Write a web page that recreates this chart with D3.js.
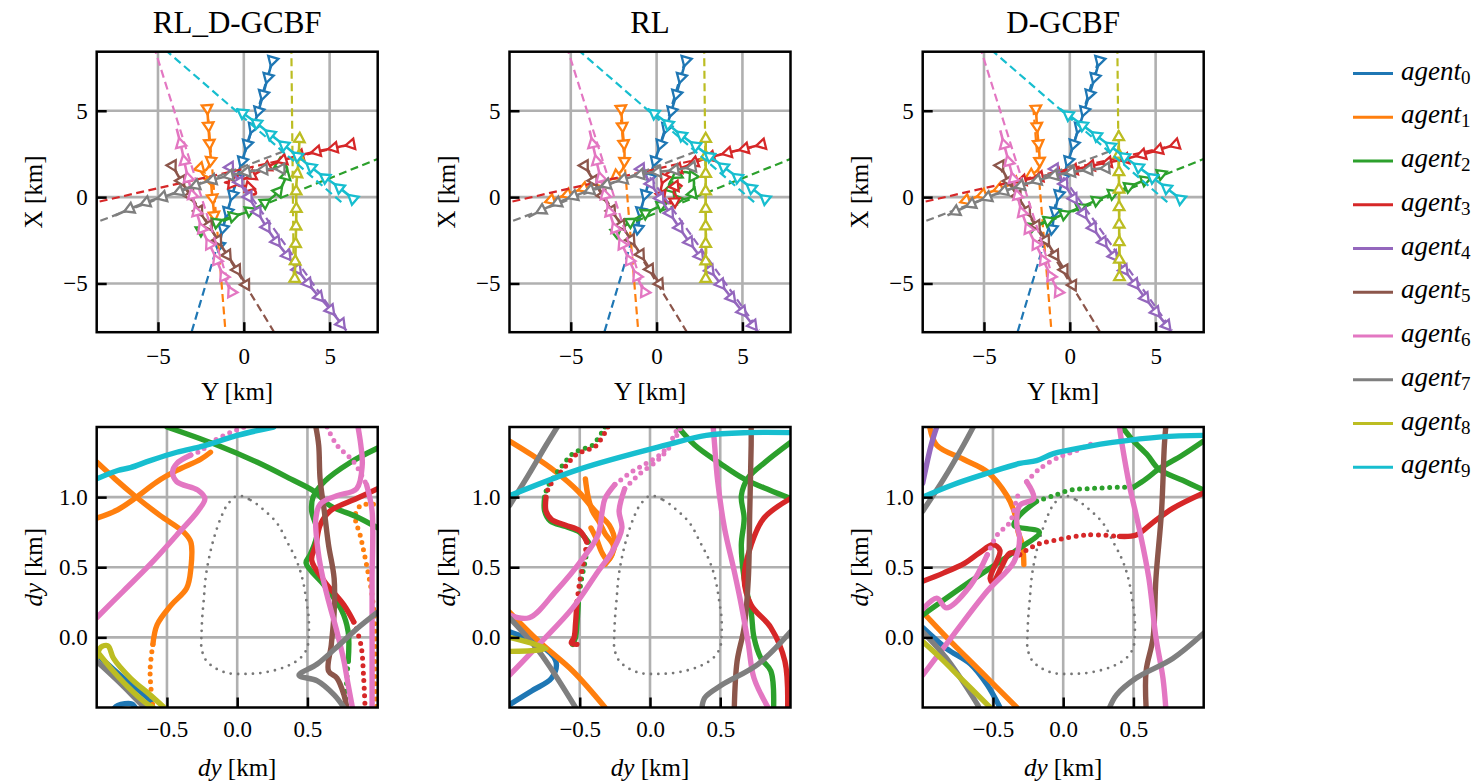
<!DOCTYPE html>
<html>
<head>
<meta charset="utf-8">
<script src="https://cdn.jsdelivr.net/npm/d3@7"></script>
<style>
  body { margin: 0; background: #fff; }
  svg text { font-family: "Liberation Serif", "Times New Roman", serif; fill: #000; }
</style>
</head>
<body>
<svg id="fig" width="1478" height="784"></svg>
<script>
// ---------------- data ----------------
const methods = ["RL_D-GCBF", "RL", "D-GCBF"];
const agentIndex = ["0", "1", "2", "3", "4", "5", "6", "7", "8", "9"];

const mapXTicks = [-5, 0, 5];
const mapYTicks = [-5, 0, 5];
const relXTicks = [-0.5, 0, 0.5];
const relYTicks = [0, 0.5, 1.0];

// planned straight route of each agent [Y, X] in km (start -> far end)
const routeStart = [[1.67, 7.92], [-2.13, 5.21], [-2.56, -1.93], [6.26, 3.05], [-0.81, 1.74],
                    [-4.15, 1.83], [-0.72, -5.5], [2.29, 2.64], [2.91, -4.73], [5.68, -0.29]];
const routeEnd = [[-3.1, -8.0], [-1.05, -8.0], [7.95, 2.27], [-8.7, -0.32], [5.97, -7.72],
                  [1.88, -8.0], [-5.2, 8.6], [-8.7, -1.5], [2.77, 8.6], [-4.6, 8.55]];

// flown trajectories [Y, X] in km
const trajRLDGCBF = [
  [[1.67, 7.92], [1.32, 6.66], [1.03, 5.6], [0.74, 4.63], [0.35, 3.57], [0, 2.41], [-0.33, 1.35], [-0.62, 0.29], [-0.91, -0.68], [-1.2, -1.74], [-1.43, -2.8]],
  [[-2.13, 5.15], [-2.05, 3.96], [-1.98, 2.8], [-1.94, 2.03], [-2.27, 1.54], [-2.56, 1.68], [-2.36, 1.29], [-1.98, 1.06], [-1.86, 0.29], [-1.78, -0.48], [-1.69, -1.35]],
  [[-2.5, -1.93], [-1.8, -1.55], [-0.9, -1.2], [0.16, -0.87], [1.12, -0.4], [1.8, 0.1], [2.2, 0.6], [2.45, 1.2], [2.5, 1.75], [2.2, 1.95], [2.0, 1.85]],
  [[6.26, 3.05], [4.5, 2.7], [3.0, 2.35], [1.9, 2.0], [1.1, 1.6], [0.4, 1.2], [-0.4, 0.95], [-1.1, 0.85], [-0.5, 0.75], [0.2, 0.6], [0.6, 0.45], [0.7, 0.2], [0.5, 0.15]],
  [[-0.81, 1.74], [0.35, -0.1], [1.51, -2.03], [2.67, -3.57], [3.84, -5.12], [5.0, -6.47], [5.97, -7.72]],
  [[-4.15, 1.83], [-3.72, 1.06], [-3.14, 0.1], [-2.56, -0.87], [-1.98, -1.74], [-1.2, -2.99], [-0.43, -4.15], [0.16, -5.12]],
  [[-0.72, -5.5], [-1.2, -4.54], [-1.78, -3.19], [-2.36, -2.03], [-2.75, -0.87], [-3.04, 0.29], [-3.33, 1.45], [-3.62, 2.8], [-3.91, 3.96]],
  [[2.19, 1.64], [1.12, 1.6], [0.16, 1.45], [-0.81, 1.25], [-1.59, 1.06], [-2.56, 0.77], [-3.33, 0.48], [-4.11, 0.19], [-5.08, -0.1], [-6.05, -0.44], [-7.5, -1.06]],
  [[2.97, -4.73], [3.02, -2.8], [3.06, -0.87], [3.06, 0.68], [3.16, 1.83], [3.26, 3.67]],
  [[6.36, -0.1], [5.39, 0.68], [4.42, 1.35], [3.45, 2.12], [2.48, 2.9], [1.51, 3.67], [0.54, 4.44], [-0.43, 5.12]]
];
const trajRL = [
  [[1.7, 7.92], [1.35, 6.66], [1.05, 5.6], [0.75, 4.6], [0.38, 3.5], [0.0, 2.4], [-0.33, 1.35], [-0.62, 0.29], [-0.9, -0.7], [-1.1, -1.93]],
  [[-2.07, 5.12], [-1.97, 3.76], [-1.87, 2.41], [-1.97, 1.64], [-2.64, 1.06], [-3.8, 0.68], [-5.35, 0.1], [-6.5, -0.29]],
  [[-2.36, -2.03], [-1.68, -1.53], [-0.33, -0.77], [1.0, -0.19], [1.97, 0.0], [2.17, 0.58], [2.07, 1.26], [1.6, 1.45], [1.02, 1.16], [0.73, 0.68], [1.02, 0.39], [1.4, 0.58]],
  [[6.14, 3.05], [4.69, 2.7], [3.15, 2.32], [2.2, 2.0], [1.6, 1.74], [0.6, 1.37], [0.33, 0.79], [0.25, 0.3], [0.5, -0.2], [0.8, -0.35], [1.2, -0.1], [1.0, 0.3], [1.2, 0.79], [1.5, 0.6]],
  [[-0.91, 1.64], [0.3, -0.2], [1.5, -2.03], [2.65, -3.6], [3.8, -5.12], [4.9, -6.5], [5.85, -7.72]],
  [[-4.19, 1.83], [-3.7, 1.0], [-3.1, 0.0], [-2.5, -0.95], [-1.9, -1.85], [-1.1, -3.05], [-0.4, -4.15], [0.25, -5.12]],
  [[-0.71, -5.5], [-1.2, -4.5], [-1.8, -3.2], [-2.35, -2.0], [-2.75, -0.85], [-3.05, 0.3], [-3.35, 1.45], [-3.65, 2.75], [-3.9, 3.86]],
  [[2.08, 1.74], [0.83, 1.54], [-0.71, 1.35], [-2.45, 0.87], [-4.19, 0.29], [-5.93, -0.39], [-7.47, -1.16]],
  [[2.86, -4.73], [2.86, -2.5], [2.86, 0.0], [2.86, 2.0], [2.86, 3.67]],
  [[6.33, -0.1], [5.3, 0.7], [4.3, 1.45], [3.3, 2.2], [2.3, 2.95], [1.3, 3.7], [0.4, 4.45], [-0.52, 5.12]]
];
const trajDGCBF = [
  [[1.73, 7.92], [1.35, 6.6], [1.0, 5.5], [0.65, 4.4], [0.3, 3.3], [-0.05, 2.2], [-0.4, 1.1], [-0.7, -0.1], [-0.9, -1.0], [-1.06, -2.03]],
  [[-1.97, 5.12], [-1.89, 3.76], [-1.77, 2.41], [-1.83, 1.64], [-2.5, 1.16], [-3.85, 0.58], [-5.2, 0.1], [-6.36, -0.29]],
  [[-2.22, -1.74], [0.0, -0.85], [2.0, 0.0], [3.8, 0.75], [5.59, 1.45]],
  [[6.17, 3.05], [4.7, 2.6], [3.28, 2.22], [1.35, 1.83], [-0.39, 1.45], [-2.31, 1.06], [-3.6, 0.75]],
  [[-0.87, 1.64], [0.3, -0.2], [1.5, -2.0], [2.7, -3.6], [3.85, -5.12], [4.9, -6.5], [5.88, -7.72]],
  [[-4.05, 1.83], [-3.6, 1.0], [-3.0, 0.0], [-2.4, -0.95], [-1.8, -1.85], [-1.05, -3.05], [-0.35, -4.15], [0.19, -5.12]],
  [[-0.67, -5.5], [-1.15, -4.5], [-1.75, -3.2], [-2.35, -2.0], [-2.8, -0.85], [-3.1, 0.3], [-3.4, 1.45], [-3.75, 2.75], [-4.05, 3.86]],
  [[2.12, 1.68], [0.8, 1.55], [-0.7, 1.3], [-2.4, 0.8], [-4.1, 0.25], [-5.7, -0.4], [-7.13, -1.06]],
  [[2.89, -4.63], [2.88, -2.4], [2.87, 0.0], [2.86, 2.0], [2.85, 3.86]],
  [[6.45, -0.1], [5.4, 0.7], [4.4, 1.45], [3.3, 2.25], [2.3, 3.0], [1.3, 3.75], [0.35, 4.45], [-0.58, 5.12]]
];

// protected-zone boundary in the relative frame [dy, dy] km
const zoneBoundary = [[0, 1.009], [0.095, 0.979], [0.19, 0.908], [0.284, 0.813], [0.355, 0.682], [0.415, 0.564],
  [0.45, 0.469], [0.474, 0.374], [0.493, 0.256], [0.509, 0.137], [0.509, 0.019], [0.498, -0.076], [0.45, -0.147],
  [0.379, -0.194], [0.284, -0.23], [0.166, -0.254], [0.047, -0.261], [-0.071, -0.254], [-0.166, -0.213],
  [-0.225, -0.159], [-0.254, -0.076], [-0.254, 0.019], [-0.249, 0.137], [-0.237, 0.28], [-0.225, 0.422],
  [-0.201, 0.564], [-0.166, 0.706], [-0.118, 0.848], [-0.071, 0.943], [0, 1.009]];

// relative tracks: agent, sampled points, and whether the samples are sparse
const relRLDGCBF = [
  { agent: 0, sparse: false, pts: [[-1.0, -0.12], [-0.81, -0.29], [-0.62, -0.45], [-0.6, -0.5]] },
  { agent: 0, sparse: false, pts: [[-0.88, -0.51], [-0.85, -0.485], [-0.75, -0.475], [-0.72, -0.51]] },
  { agent: 1, sparse: false, pts: [[-1.0, 1.25], [-0.87, 1.13], [-0.73, 1.01], [-0.55, 0.87], [-0.38, 0.75], [-0.33, 0.68], [-0.33, 0.49], [-0.36, 0.35], [-0.47, 0.23], [-0.57, 0.09], [-0.6, -0.05]] },
  { agent: 1, sparse: true, pts: [[-0.6, -0.05], [-0.62, -0.24], [-0.6, -0.5]] },
  { agent: 1, sparse: false, pts: [[-1.0, 0.85], [-0.85, 0.91], [-0.73, 0.99], [-0.57, 1.11], [-0.43, 1.19], [-0.26, 1.27], [-0.19, 1.32]] },
  { agent: 1, sparse: true, pts: [[0.97, 0.95], [0.88, 0.94], [0.84, 0.87], [0.88, 0.71], [0.92, 0.52], [0.96, 0.3], [0.98, 0.07], [0.98, -0.29], [0.99, -0.5]] },
  { agent: 2, sparse: false, pts: [[-0.5, 1.5], [-0.14, 1.37], [0.14, 1.25], [0.38, 1.13], [0.55, 1.04], [0.66, 0.94], [0.85, 0.86], [1.0, 0.78]] },
  { agent: 2, sparse: false, pts: [[1.0, 1.35], [0.81, 1.25], [0.62, 1.11], [0.54, 1.0], [0.53, 0.9], [0.57, 0.75], [0.52, 0.59], [0.49, 0.53], [0.62, 0.37], [0.74, 0.2], [0.79, 0.04], [0.79, -0.17]] },
  { agent: 2, sparse: true, pts: [[0.79, -0.17], [0.78, -0.3], [0.77, -0.5]] },
  { agent: 3, sparse: false, pts: [[1.0, 1.06], [0.85, 0.99], [0.66, 0.9], [0.59, 0.8], [0.56, 0.66], [0.53, 0.55], [0.62, 0.4], [0.76, 0.23], [0.83, 0.11]] },
  { agent: 3, sparse: true, pts: [[0.83, 0.11], [0.88, -0.05], [0.9, -0.29], [0.91, -0.5]] },
  { agent: 5, sparse: false, pts: [[0.56, 1.5], [0.58, 1.37], [0.59, 1.13], [0.62, 0.9], [0.65, 0.66], [0.69, 0.42], [0.69, 0.18], [0.67, -0.05], [0.65, -0.24], [0.71, -0.29], [0.76, -0.41], [0.78, -0.5]] },
  { agent: 6, sparse: false, pts: [[-1.0, 0.14], [-0.81, 0.33], [-0.62, 0.52], [-0.43, 0.73], [-0.28, 0.9], [-0.23, 0.99], [-0.28, 1.05], [-0.43, 1.11], [-0.46, 1.18], [-0.43, 1.24], [-0.33, 1.3]] },
  { agent: 6, sparse: true, pts: [[-0.33, 1.3], [-0.26, 1.33], [-0.17, 1.4], [-0.05, 1.46], [0.05, 1.5]] },
  { agent: 6, sparse: false, pts: [[0.86, 1.5], [0.88, 1.37], [0.89, 1.23], [0.85, 1.06], [0.71, 1.01], [0.59, 0.95], [0.56, 0.85], [0.57, 0.66], [0.6, 0.47], [0.65, 0.26], [0.71, 0.04], [0.76, -0.17], [0.79, -0.34], [0.82, -0.5]] },
  { agent: 6, sparse: true, pts: [[0.64, 1.5], [0.71, 1.37], [0.83, 1.25], [0.92, 1.09]] },
  { agent: 6, sparse: false, pts: [[0.92, 1.09], [0.96, 0.9], [0.96, 0.42], [0.96, -0.05], [0.96, -0.5]] },
  { agent: 7, sparse: false, pts: [[-1.0, -0.17], [-0.85, -0.31], [-0.71, -0.45], [-0.66, -0.5]] },
  { agent: 7, sparse: false, pts: [[1.0, 0.18], [0.85, 0.06], [0.73, -0.05], [0.57, -0.19], [0.44, -0.27], [0.57, -0.31], [0.69, -0.41], [0.76, -0.5]] },
  { agent: 8, sparse: false, pts: [[-1.0, -0.14], [-0.97, -0.07], [-0.92, -0.06], [-0.88, -0.15], [-0.76, -0.29], [-0.62, -0.41], [-0.52, -0.5]] },
  { agent: 8, sparse: false, pts: [[-0.99, -0.11], [-0.9, -0.22], [-0.78, -0.35], [-0.66, -0.46], [-0.6, -0.5]] },
  { agent: 9, sparse: false, pts: [[-1.0, 1.13], [-0.85, 1.19], [-0.76, 1.21], [-0.62, 1.26], [-0.43, 1.32], [-0.26, 1.36], [-0.19, 1.38], [0.0, 1.44], [0.26, 1.5]] }
];
const relRL = [
  { agent: 0, sparse: false, pts: [[-1.0, 0.04], [-0.79, -0.05], [-0.67, -0.17], [-0.7, -0.29], [-0.84, -0.38], [-1.0, -0.48]] },
  { agent: 1, sparse: false, pts: [[-1.0, 1.4], [-0.84, 1.3], [-0.67, 1.18], [-0.51, 1.04], [-0.39, 0.9], [-0.29, 0.8], [-0.25, 0.68], [-0.27, 0.59], [-0.32, 0.52]] },
  { agent: 1, sparse: false, pts: [[-0.46, 1.13], [-0.44, 1.0], [-0.41, 0.9], [-0.36, 0.82], [-0.32, 0.74], [-0.26, 0.65], [-0.3, 0.55], [-0.34, 0.6], [-0.38, 0.7], [-0.42, 0.78]] },
  { agent: 1, sparse: false, pts: [[-1.0, 0.18], [-0.79, -0.03], [-0.55, -0.24], [-0.32, -0.5]] },
  { agent: 2, sparse: true, pts: [[-0.32, 1.5], [-0.41, 1.37], [-0.49, 1.34], [-0.55, 1.31], [-0.62, 1.23], [-0.68, 1.15], [-0.73, 1.07], [-0.75, 1.0]] },
  { agent: 2, sparse: false, pts: [[-0.75, 1.0], [-0.75, 0.9], [-0.71, 0.83], [-0.6, 0.79], [-0.5, 0.75], [-0.44, 0.68]] },
  { agent: 2, sparse: true, pts: [[-0.44, 0.68], [-0.46, 0.55], [-0.49, 0.4], [-0.51, 0.25]] },
  { agent: 2, sparse: false, pts: [[-0.51, 0.25], [-0.52, 0.1], [-0.53, 0.0], [-0.55, -0.05]] },
  { agent: 2, sparse: false, pts: [[0.2, 1.5], [0.32, 1.37], [0.5, 1.24], [0.67, 1.13], [0.85, 1.05], [1.0, 0.99]] },
  { agent: 2, sparse: false, pts: [[1.0, 1.39], [0.82, 1.25], [0.7, 1.14], [0.65, 1.01], [0.67, 0.85], [0.65, 0.66], [0.67, 0.42], [0.72, 0.18], [0.74, 0.0], [0.79, -0.15], [0.86, -0.24], [0.88, -0.5]] },
  { agent: 3, sparse: true, pts: [[-0.3, 1.5], [-0.39, 1.36], [-0.47, 1.33], [-0.53, 1.3], [-0.6, 1.22], [-0.66, 1.15], [-0.72, 1.07], [-0.74, 1.0]] },
  { agent: 3, sparse: false, pts: [[-0.74, 1.0], [-0.74, 0.9], [-0.7, 0.84], [-0.6, 0.8], [-0.5, 0.76], [-0.45, 0.68]] },
  { agent: 3, sparse: true, pts: [[-0.45, 0.68], [-0.47, 0.55], [-0.5, 0.4], [-0.52, 0.25]] },
  { agent: 3, sparse: false, pts: [[-0.52, 0.25], [-0.53, 0.1], [-0.54, 0.0], [-0.56, -0.04], [-0.52, -0.05]] },
  { agent: 3, sparse: false, pts: [[1.0, 0.99], [0.81, 0.85], [0.72, 0.66], [0.67, 0.42], [0.72, 0.23], [0.86, 0.07], [0.96, -0.17], [0.98, -0.5]] },
  { agent: 5, sparse: false, pts: [[0.72, 1.5], [0.72, 1.37], [0.71, 0.9], [0.7, 0.42], [0.67, 0.07], [0.62, -0.17], [0.6, -0.5]] },
  { agent: 6, sparse: false, pts: [[-1.0, -0.27], [-0.79, -0.05], [-0.55, 0.21], [-0.37, 0.47], [-0.27, 0.61], [-0.2, 0.78], [-0.22, 0.9], [-0.18, 1.06]] },
  { agent: 6, sparse: true, pts: [[-0.18, 1.06], [-0.08, 1.16], [0.04, 1.25], [0.11, 1.32], [0.17, 1.4], [0.22, 1.5]] },
  { agent: 6, sparse: false, pts: [[-1.0, 0.16], [-0.86, 0.14], [-0.67, 0.33], [-0.48, 0.56], [-0.37, 0.73], [-0.34, 0.9], [-0.32, 0.99], [-0.25, 1.09]] },
  { agent: 6, sparse: true, pts: [[-0.25, 1.09], [-0.13, 1.18], [-0.01, 1.25], [0.08, 1.31], [0.15, 1.4], [0.2, 1.5]] },
  { agent: 6, sparse: false, pts: [[0.45, 1.5], [0.46, 1.37], [0.48, 1.13], [0.53, 0.78], [0.6, 0.47], [0.65, 0.23], [0.7, -0.05], [0.74, -0.29], [0.84, -0.5]] },
  { agent: 7, sparse: false, pts: [[-1.0, 0.94], [-0.87, 1.15], [-0.74, 1.37], [-0.66, 1.5]] },
  { agent: 7, sparse: false, pts: [[-1.0, 0.14], [-0.79, -0.1], [-0.53, -0.5]] },
  { agent: 7, sparse: false, pts: [[1.0, 0.04], [0.77, -0.19], [0.51, -0.34], [0.39, -0.43], [0.37, -0.5]] },
  { agent: 8, sparse: false, pts: [[-1.0, 0.0], [-0.74, -0.08], [-1.0, -0.1]] },
  { agent: 9, sparse: false, pts: [[-1.0, 1.01], [-0.5, 1.2], [0.11, 1.37], [0.4, 1.44], [0.7, 1.46], [1.0, 1.46]] }
];
const relDGCBF = [
  { agent: 0, sparse: false, pts: [[-1.0, 0.07], [-0.83, -0.08], [-0.66, -0.19], [-0.54, -0.34], [-0.45, -0.5]] },
  { agent: 1, sparse: false, pts: [[-0.95, 1.5], [-0.9, 1.37], [-0.71, 1.27], [-0.54, 1.18], [-0.4, 1.01], [-0.35, 0.9], [-0.32, 0.75], [-0.29, 0.66], [-0.28, 0.52]] },
  { agent: 1, sparse: false, pts: [[-1.0, 0.18], [-0.83, 0.0], [-0.59, -0.24], [-0.33, -0.5]] },
  { agent: 2, sparse: false, pts: [[-1.0, 0.16], [-0.66, 0.4], [-0.35, 0.61], [-0.17, 0.75], [-0.35, 0.8], [-0.31, 0.87], [-0.19, 0.97]] },
  { agent: 2, sparse: true, pts: [[-0.19, 0.97], [-0.07, 1.01], [0.05, 1.05], [0.17, 1.06], [0.4, 1.07], [0.5, 1.07]] },
  { agent: 2, sparse: false, pts: [[0.5, 1.07], [0.59, 1.13], [0.68, 1.2], [0.85, 1.3], [1.0, 1.4]] },
  { agent: 2, sparse: false, pts: [[0.42, 1.5], [0.5, 1.4], [0.6, 1.3], [0.68, 1.2], [0.85, 1.12], [1.0, 1.05]] },
  { agent: 3, sparse: false, pts: [[-1.0, 0.4], [-0.85, 0.46], [-0.7, 0.53], [-0.6, 0.6], [-0.5, 0.66], [-0.45, 0.62], [-0.52, 0.42], [-0.5, 0.39], [-0.44, 0.5], [-0.38, 0.6], [-0.31, 0.59]] },
  { agent: 3, sparse: true, pts: [[-0.31, 0.59], [-0.19, 0.66], [-0.07, 0.69], [0.17, 0.73], [0.4, 0.72]] },
  { agent: 3, sparse: false, pts: [[0.4, 0.72], [0.52, 0.73], [0.64, 0.82], [0.78, 0.92], [1.0, 1.03]] },
  { agent: 4, sparse: false, pts: [[-0.9, 1.5], [-0.94, 1.37], [-1.0, 1.1]] },
  { agent: 5, sparse: false, pts: [[0.73, 1.5], [0.72, 1.37], [0.7, 0.9], [0.66, 0.42], [0.64, 0.0], [0.59, -0.24], [0.59, -0.5]] },
  { agent: 6, sparse: false, pts: [[-1.0, -0.27], [-0.78, 0.02], [-0.54, 0.33], [-0.35, 0.54], [-0.31, 0.71], [-0.33, 0.8], [-0.31, 0.94], [-0.21, 0.99], [-0.26, 1.11]] },
  { agent: 6, sparse: true, pts: [[-0.26, 1.11], [-0.17, 1.2], [-0.02, 1.29], [0.09, 1.33], [0.2, 1.38]] },
  { agent: 6, sparse: false, pts: [[-1.0, 0.2], [-0.9, 0.28], [-0.83, 0.21], [-0.66, 0.37], [-0.54, 0.59]] },
  { agent: 6, sparse: true, pts: [[-0.54, 0.59], [-0.47, 0.73], [-0.38, 0.82], [-0.34, 0.95], [-0.31, 1.06]] },
  { agent: 6, sparse: false, pts: [[0.4, 1.5], [0.42, 1.37], [0.47, 1.09], [0.54, 0.78], [0.61, 0.42], [0.66, 0.0], [0.71, -0.29], [0.73, -0.5]] },
  { agent: 7, sparse: false, pts: [[-1.0, 0.9], [-0.85, 1.13], [-0.71, 1.37], [-0.64, 1.5]] },
  { agent: 7, sparse: false, pts: [[-1.0, 0.04], [-0.83, -0.15], [-0.61, -0.48], [-0.6, -0.5]] },
  { agent: 7, sparse: false, pts: [[1.0, 0.03], [0.78, -0.15], [0.52, -0.29], [0.38, -0.41], [0.33, -0.5]] },
  { agent: 8, sparse: false, pts: [[-1.0, -0.03], [-0.87, -0.15], [-0.73, -0.29], [-0.54, -0.48], [-0.52, -0.5]] },
  { agent: 9, sparse: false, pts: [[-1.0, 1.0], [-0.78, 1.09], [-0.54, 1.17], [-0.31, 1.24], [-0.19, 1.26], [-0.07, 1.31], [0.17, 1.36], [0.35, 1.39], [0.7, 1.43], [1.0, 1.44]] }
];

const trajectories = [trajRLDGCBF, trajRL, trajDGCBF];
const relativeTracks = [relRLDGCBF, relRL, relDGCBF];

// ---------------- layout ----------------
const colors = d3.schemeCategory10;
const panelLeft = [96.7, 509.5, 922.7];
const panelW = 281, panelH = 280.5;
const mapTop = 51.7, relTop = 427;
const mapXDomain = [-8.57, 7.8], mapYDomain = [-7.82, 8.42];
const relXDomain = [-1, 1], relYDomain = [-0.5, 1.5];

const svg = d3.select("#fig");
const defs = svg.append("defs");
const serif = "Liberation Serif, Times New Roman, serif";

function makePanel(i, top, xDom, yDom, key) {
  const left = panelLeft[i];
  const xs = d3.scaleLinear().domain(xDom).range([left, left + panelW]);
  const ys = d3.scaleLinear().domain(yDom).range([top + panelH, top]);
  const id = "clip-" + key + "-" + i;
  defs.append("clipPath").attr("id", id).append("rect")
    .attr("x", left).attr("y", top).attr("width", panelW).attr("height", panelH);
  return { xs, ys, id, left, top };
}

function drawGrid(p, xt, yt) {
  const g = svg.append("g").attr("stroke", "#b0b0b0").attr("stroke-width", 2.6);
  g.selectAll("line.v").data(xt).join("line").attr("class", "v")
    .attr("x1", d => p.xs(d)).attr("x2", d => p.xs(d))
    .attr("y1", p.top).attr("y2", p.top + panelH);
  g.selectAll("line.h").data(yt).join("line").attr("class", "h")
    .attr("y1", d => p.ys(d)).attr("y2", d => p.ys(d))
    .attr("x1", p.left).attr("x2", p.left + panelW);
}

function drawFrameAxes(p, xt, yt, fmt, xPad, xLabel, yLabel) {
  svg.append("rect").attr("x", p.left).attr("y", p.top).attr("width", panelW).attr("height", panelH)
    .attr("fill", "none").attr("stroke", "#000").attr("stroke-width", 2.5);
  const ax = svg.append("g").attr("transform", `translate(0,${p.top + panelH})`)
    .call(d3.axisBottom(p.xs).tickValues(xt).tickSize(-10).tickPadding(xPad).tickFormat(fmt));
  const ay = svg.append("g").attr("transform", `translate(${p.left},0)`)
    .call(d3.axisLeft(p.ys).tickValues(yt).tickSize(-10).tickPadding(9).tickFormat(fmt));
  [ax, ay].forEach(a => {
    a.attr("font-family", serif).attr("font-size", 23);
    a.select(".domain").remove();
    a.selectAll(".tick line").attr("stroke", "#000").attr("stroke-width", 2.5);
    a.selectAll(".tick text").attr("fill", "#000");
  });
  // axis titles
  const xt2 = svg.append("text").attr("x", p.left + panelW / 2).attr("y", p.top + panelH + 68)
    .attr("text-anchor", "middle").attr("font-size", 25);
  xLabel(xt2);
  const yt2 = svg.append("text")
    .attr("transform", `translate(${p.left - 55},${p.top + panelH / 2}) rotate(-90)`)
    .attr("text-anchor", "middle").attr("font-size", 25);
  yLabel(yt2);
}

const plain = s => t => t.text(s);
const mathDy = t => { t.append("tspan").attr("font-style", "italic").text("dy"); t.append("tspan").text(" [km]"); };

// ---------------- top row: trajectories ----------------
const tri = d3.symbol().type(d3.symbolTriangle).size(48);
methods.forEach((m, i) => {
  const p = makePanel(i, mapTop, mapXDomain, mapYDomain, "map");
  drawGrid(p, mapXTicks, mapYTicks);
  const line = d3.line().x(d => p.xs(d[0])).y(d => p.ys(d[1]));
  const smooth = d3.line().x(d => p.xs(d[0])).y(d => p.ys(d[1])).curve(d3.curveCatmullRom.alpha(0.5));
  const g = svg.append("g").attr("clip-path", `url(#${p.id})`);
  agentIndex.forEach((a, k) => {
    const c = colors[k];
    g.append("path").datum([routeStart[k], routeEnd[k]]).attr("d", line)
      .attr("fill", "none").attr("stroke", c).attr("stroke-width", 2.2).attr("stroke-dasharray", "8,4.5");
    const path = g.append("path").datum(trajectories[i][k]).attr("d", smooth)
      .attr("fill", "none").attr("stroke", c).attr("stroke-width", 2.6).attr("stroke-linejoin", "round");
    const node = path.node();
    const L = node.getTotalLength();
    const marks = [];
    for (let s = 0; s <= L; s += 17.5) {
      const a0 = node.getPointAtLength(Math.max(0, s - 1));
      const a1 = node.getPointAtLength(Math.min(L, s + 1));
      const pt = node.getPointAtLength(s);
      marks.push({ x: pt.x, y: pt.y, ang: Math.atan2(a1.y - a0.y, a1.x - a0.x) * 180 / Math.PI + 90 });
    }
    g.selectAll(null).data(marks).join("path")
      .attr("d", tri)
      .attr("transform", d => `translate(${d.x},${d.y}) rotate(${d.ang})`)
      .attr("fill", "#fff").attr("stroke", c).attr("stroke-width", 2.3).attr("stroke-linejoin", "miter");
  });
  drawFrameAxes(p, mapXTicks, mapYTicks, d3.format("d"), 15, plain("Y [km]"), plain("X [km]"));
  svg.append("text").attr("x", p.left + panelW / 2).attr("y", 33.3)
    .attr("text-anchor", "middle").attr("font-size", 31).text(m);
});

// ---------------- bottom row: relative positions ----------------
methods.forEach((m, i) => {
  const p = makePanel(i, relTop, relXDomain, relYDomain, "rel");
  drawGrid(p, relXTicks, relYTicks);
  const smooth = d3.line().x(d => p.xs(d[0])).y(d => p.ys(d[1])).curve(d3.curveCatmullRom.alpha(0.5));
  const closed = d3.line().x(d => p.xs(d[0])).y(d => p.ys(d[1])).curve(d3.curveCatmullRomClosed.alpha(0.5));
  const g = svg.append("g").attr("clip-path", `url(#${p.id})`);
  g.append("path").datum(zoneBoundary.slice(0, -1)).attr("d", closed)
    .attr("fill", "none").attr("stroke", "#777").attr("stroke-width", 2.8)
    .attr("stroke-linecap", "round").attr("stroke-dasharray", "0,7.4");
  const tracks = relativeTracks[i].slice().sort((a, b) => a.agent - b.agent);
  tracks.forEach(t => {
    g.append("path").datum(t.pts).attr("d", smooth)
      .attr("fill", "none").attr("stroke", colors[t.agent])
      .attr("stroke-width", t.sparse ? 5 : 5.4)
      .attr("stroke-linecap", "round").attr("stroke-linejoin", "round")
      .attr("stroke-dasharray", t.sparse ? "0,7.5" : null);
  });
  drawFrameAxes(p, relXTicks, relYTicks, d3.format(".1f"), 13, mathDy, mathDy);
});

// ---------------- legend ----------------
const leg = svg.append("g");
agentIndex.forEach((a, k) => {
  const y = 73.5 + k * 43.75;
  leg.append("line").attr("x1", 1353).attr("x2", 1393).attr("y1", y).attr("y2", y)
    .attr("stroke", colors[k]).attr("stroke-width", 3);
  const t = leg.append("text").attr("x", 1401).attr("y", y + 6).attr("font-size", 27).attr("font-style", "italic");
  t.append("tspan").text("agent");
  t.append("tspan").attr("font-size", 19).attr("font-style", "normal").attr("dy", 4).text(a);
});
</script>
</body>
</html>
